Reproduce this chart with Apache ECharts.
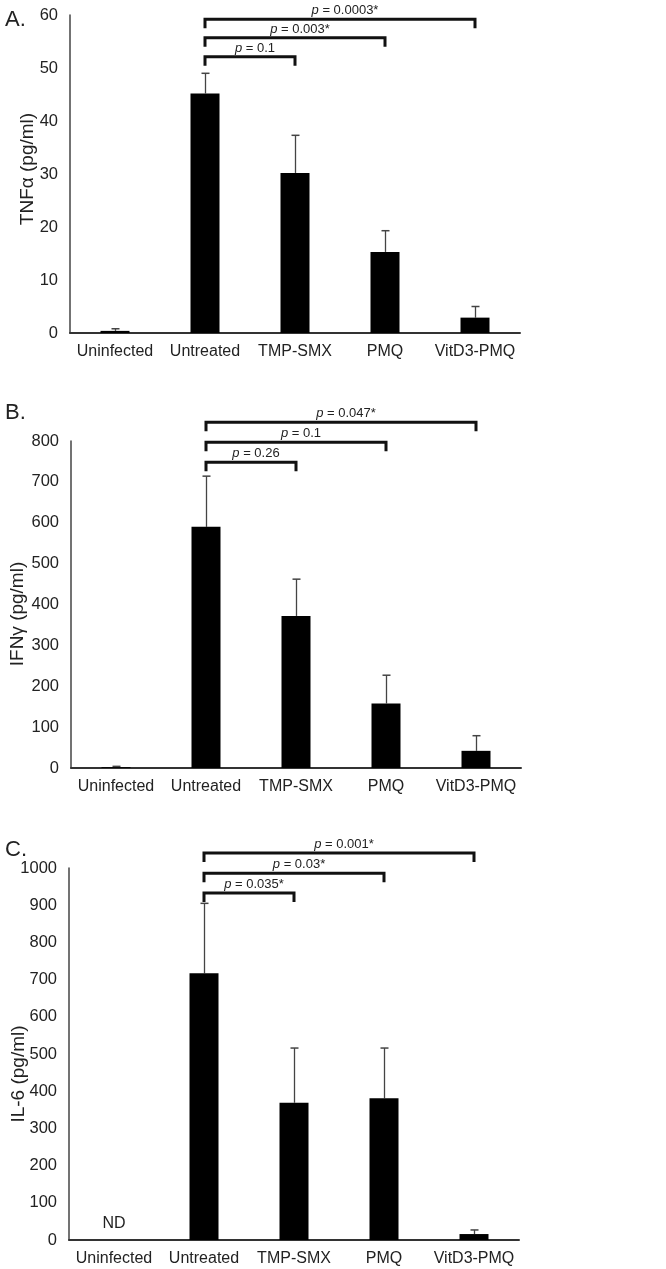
<!DOCTYPE html>
<html>
<head>
<meta charset="utf-8">
<script src="https://cdn.jsdelivr.net/npm/echarts@6/dist/echarts.min.js"></script>
<style>
  html, body { margin: 0; padding: 0; background: #fff; }
  #chart { width: 666px; height: 1269px; }
</style>
</head>
<body>
<div id="chart"></div>
<script>
const categories = ['Uninfected', 'Untreated', 'TMP-SMX', 'PMQ', 'VitD3-PMQ']

// A. TNFα
const tnfMean = [0.4, 45.2, 30.2, 15.3, 2.9]
const tnfErr = [0.4, 3.8, 7.1, 4.0, 2.1]
const tnfPairs = [[1, 2], [1, 3], [1, 4]]
const tnfBracketY = [52.1, 55.7, 59.2]
const tnfP = ['0.1', '0.003*', '0.0003*']

// B. IFNγ
const ifnMean = [2, 590, 372, 158, 42]
const ifnErr = [2, 124, 90, 69, 37]
const ifnPairs = [[1, 2], [1, 3], [1, 4]]
const ifnBracketY = [748, 797, 846]
const ifnP = ['0.26', '0.1', '0.047*']

// C. IL-6 (Uninfected not detected)
const ilMean = [null, 717, 369, 381, 16]
const ilErr = [null, 188, 147, 135, 11]
const ilPairs = [[1, 2], [1, 3], [1, 4]]
const ilBracketY = [933, 986, 1040]
const ilP = ['0.035*', '0.03*', '0.001*']

const FONT = "'Liberation Sans', Arial, sans-serif"
const TXT = '#222'

const panels = [
  { label: 'A.', labelTop: 4, name: 'TNFα (pg/ml)', nameX: 28, nameY: 169, top: 15, height: 318, left: 70, max: 60, interval: 10,
    mean: tnfMean, err: tnfErr, pairs: tnfPairs, by: tnfBracketY, p: tnfP },
  { label: 'B.', labelTop: 397, name: 'IFNγ (pg/ml)', nameX: 18, nameY: 614, top: 441, height: 327, left: 71, max: 800, interval: 100,
    mean: ifnMean, err: ifnErr, pairs: ifnPairs, by: ifnBracketY, p: ifnP },
  { label: 'C.', labelTop: 834, name: 'IL-6 (pg/ml)', nameX: 19, nameY: 1074, top: 868, height: 372, left: 69, max: 1000, interval: 100,
    mean: ilMean, err: ilErr, pairs: ilPairs, by: ilBracketY, p: ilP }
]

let option = {
  animation: false,
  backgroundColor: '#fff',
  textStyle: { fontFamily: FONT, color: TXT },
  title: [],
  grid: [],
  xAxis: [],
  yAxis: [],
  graphic: [],
  series: []
}

panels.forEach((pn, i) => {
  option.title.push({
    text: pn.label, left: 0, top: pn.labelTop,
    textStyle: { fontFamily: FONT, fontSize: 22, fontWeight: 'normal', color: TXT }
  })
  // y axis title, placed by hand like the original figure
  option.graphic.push({
    type: 'text', x: pn.nameX, y: pn.nameY, rotation: Math.PI / 2,
    style: { text: pn.name, align: 'center', verticalAlign: 'middle', fontFamily: FONT, fontSize: 19, fill: TXT }
  })
  option.grid.push({ left: pn.left, width: 450, top: pn.top, height: pn.height, outerBoundsMode: 'none', containLabel: false })
  option.xAxis.push({
    type: 'category', gridIndex: i, data: categories,
    axisLine: { lineStyle: { color: '#333', width: 2 } },
    axisTick: { show: false },
    axisLabel: { fontFamily: FONT, fontSize: 16, color: TXT, margin: 11, interval: 0 }
  })
  option.yAxis.push({
    type: 'value', gridIndex: i, min: 0, max: pn.max, interval: pn.interval,
    axisLine: { show: true, lineStyle: { color: '#444', width: 1.5 } },
    axisTick: { show: false },
    splitLine: { show: false },
    axisLabel: { fontFamily: FONT, fontSize: 16.5, color: TXT, margin: 12, formatter: v => String(v) }
  })
  // bars
  option.series.push({
    type: 'bar', xAxisIndex: i, yAxisIndex: i, barWidth: 29,
    itemStyle: { color: '#000' },
    data: pn.mean.map(v => {
      if (v === null) {
        return { value: 0, label: { show: true, position: 'top', distance: 8, formatter: 'ND', fontFamily: FONT, fontSize: 16, color: TXT } }
      }
      return v
    })
  })
  // error bars
  option.series.push({
    type: 'custom', xAxisIndex: i, yAxisIndex: i, clip: false,
    data: pn.mean.map((v, k) => v === null ? null : [k, v, v + pn.err[k]]).filter(d => d),
    renderItem (params, api) {
      let base = api.coord([api.value(0), api.value(1)])
      let top = api.coord([api.value(0), api.value(2)])
      let x = base[0] + 0.5
      return {
        type: 'group',
        children: [
          { type: 'line', shape: { x1: x, y1: base[1], x2: x, y2: top[1] }, style: { stroke: '#444', lineWidth: 1.3 } },
          { type: 'line', shape: { x1: x - 4, y1: top[1], x2: x + 4, y2: top[1] }, style: { stroke: '#444', lineWidth: 1.5 } }
        ]
      }
    }
  })
  // significance brackets
  const labels = pn.p
  option.series.push({
    type: 'custom', xAxisIndex: i, yAxisIndex: i, clip: false,
    data: pn.pairs.map((pr, k) => [pr[0], pr[1], pn.by[k]]),
    renderItem (params, api) {
      let a = api.coord([api.value(0), api.value(2)])
      let b = api.coord([api.value(1), api.value(2)])
      let leg = 9
      return {
        type: 'group',
        children: [
          { type: 'polyline', shape: { points: [[a[0], a[1] + leg], [a[0], a[1]], [b[0], a[1]], [b[0], a[1] + leg]] },
            style: { stroke: '#111', lineWidth: 3, fill: null } },
          { type: 'text', x: (a[0] + b[0]) / 2 + 5, y: a[1] - 2,
            style: {
              text: '{i|p} = ' + labels[params.dataIndex],
              align: 'center', verticalAlign: 'bottom',
              fontFamily: FONT, fontSize: 13, fill: TXT,
              rich: { i: { fontStyle: 'italic', fontFamily: FONT, fontSize: 13, fill: TXT } }
            } }
        ]
      }
    }
  })
})

let chart = echarts.init(document.getElementById('chart'))
chart.setOption(option)
</script>
</body>
</html>
